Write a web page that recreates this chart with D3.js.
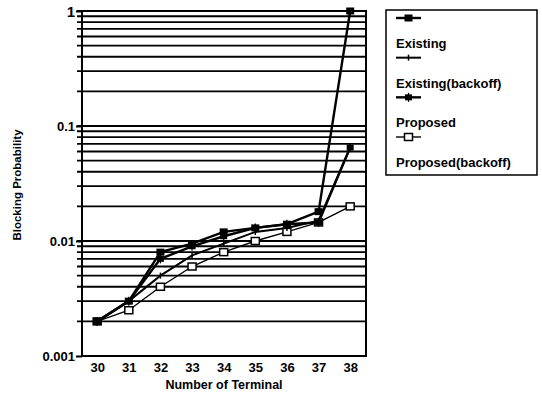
<!DOCTYPE html>
<html>
<head>
<meta charset="utf-8">
<script src="https://cdn.jsdelivr.net/npm/d3@7"></script>
<style>
  body { margin: 0; background: #fff; }
  text { font-family: "Liberation Sans", Arial, sans-serif; font-weight: bold; fill: #000; }
</style>
</head>
<body>
<div id="chart"></div>
<script>
// data
const terminals = [30, 31, 32, 33, 34, 35, 36, 37, 38];
const existing        = [0.002, 0.003, 0.008, 0.0095, 0.012, 0.013, 0.014, 0.018, 1];
const existingBackoff = [0.002, 0.003, 0.005, 0.0075, 0.0095, 0.012, 0.013, 0.015, 0.065];
const proposed        = [0.002, 0.003, 0.007, 0.009, 0.011, 0.013, 0.014, 0.0145, 0.065];
const proposedBackoff = [0.002, 0.0025, 0.004, 0.006, 0.008, 0.01, 0.012, 0.0145, 0.02];
const yTicks = [0.001, 0.01, 0.1, 1];
const seriesNames = ["Existing", "Existing(backoff)", "Proposed", "Proposed(backoff)"];

const width = 542, height = 397;
const margin = {top: 11, right: 176, bottom: 41, left: 82};

const svg = d3.select("#chart").append("svg")
    .attr("width", width)
    .attr("height", height);

let x = d3.scaleLinear().domain([29.52, 38.5]).range([margin.left, width - margin.right]);
let y = d3.scaleLog().domain([0.001, 1]).range([height - margin.bottom, margin.top]);

// grid lines at every minor step of the log axis
let minor = [];
[0.001, 0.01, 0.1].forEach(base => {
    for (let k = 2; k <= 10; k++) minor.push(base * k);
});

svg.append("g").selectAll("line").data(minor).enter().append("line")
    .attr("x1", margin.left - 5)
    .attr("x2", width - margin.right)
    .attr("y1", d => y(d))
    .attr("y2", d => y(d))
    .attr("stroke", "#000")
    .attr("stroke-width", 1.8);

// frame
svg.append("rect")
    .attr("x", margin.left).attr("y", margin.top)
    .attr("width", width - margin.right - margin.left)
    .attr("height", height - margin.bottom - margin.top)
    .attr("fill", "none").attr("stroke", "#000").attr("stroke-width", 2);

// y axis
let yAxis = d3.axisLeft(y).tickValues(yTicks).tickFormat(d3.format("~g")).tickSize(6).tickSizeOuter(0);
let yg = svg.append("g").attr("transform", "translate(" + margin.left + ",0)").call(yAxis);
yg.select(".domain").remove();
yg.selectAll("line").attr("stroke-width", 2);
yg.selectAll("text").attr("font-size", 13).attr("x", -7).attr("dy", "0.35em");
yg.selectAll("text").filter(d => d === 1).attr("font-size", 15);

// x axis
let xAxis = d3.axisBottom(x).tickValues(terminals).tickFormat(d3.format("d")).tickSize(0);
let xg = svg.append("g").attr("transform", "translate(0," + (height - margin.bottom) + ")").call(xAxis);
xg.select(".domain").remove();
xg.selectAll("text").attr("font-size", 13).attr("y", 7).attr("dy", "0.71em");

// axis titles
svg.append("text")
    .attr("x", (margin.left + width - margin.right) / 2)
    .attr("y", height - 8)
    .attr("text-anchor", "middle")
    .attr("font-size", 12.5)
    .text("Number of Terminal");

svg.append("text")
    .attr("transform", "translate(21," + 185 + ") rotate(-90)")
    .attr("text-anchor", "middle")
    .attr("font-size", 11.5)
    .text("Blocking Probability");

// series
let allSeries = [existing, existingBackoff, proposed, proposedBackoff];
let markers = ["square", "plus", "star", "open"];
let widths = [2.4, 2, 2.4, 1.4];

let line = d3.line().x((d, i) => x(terminals[i])).y(d => y(d));

function drawMarker(g, type, cx, cy) {
    if (type === "square") {
        g.append("rect").attr("x", cx - 4).attr("y", cy - 3.5).attr("width", 8).attr("height", 7).attr("fill", "#000");
    } else if (type === "open") {
        g.append("rect").attr("x", cx - 4).attr("y", cy - 3.5).attr("width", 8).attr("height", 7)
            .attr("fill", "#fff").attr("stroke", "#000").attr("stroke-width", 1.5);
    } else if (type === "plus") {
        g.append("line").attr("x1", cx).attr("x2", cx).attr("y1", cy - 3).attr("y2", cy + 3).attr("stroke", "#000").attr("stroke-width", 1.5);
    } else {
        g.append("rect").attr("x", cx - 3.5).attr("y", cy - 3).attr("width", 7).attr("height", 6).attr("fill", "#000");
        g.append("line").attr("x1", cx).attr("x2", cx).attr("y1", cy - 4.5).attr("y2", cy + 4.5).attr("stroke", "#000").attr("stroke-width", 1.2);
    }
}

allSeries.forEach((s, k) => {
    svg.append("path").datum(s)
        .attr("d", line)
        .attr("fill", "none")
        .attr("stroke", "#000")
        .attr("stroke-width", widths[k]);
});
allSeries.slice().reverse().forEach((s, r) => {
    let k = allSeries.length - 1 - r;
    let g = svg.append("g");
    s.forEach((v, i) => drawMarker(g, markers[k], x(terminals[i]), y(v)));
});

// legend
let lg = svg.append("g");
lg.append("rect")
    .attr("x", 386).attr("y", 10).attr("width", 151).attr("height", 165)
    .attr("fill", "#fff").attr("stroke", "#000").attr("stroke-width", 1.5);

let legendY = d3.scalePoint().domain(seriesNames).range([18, 137]);
seriesNames.forEach((name, k) => {
    let ly = legendY(name);
    lg.append("line").attr("x1", 396).attr("x2", 421).attr("y1", ly).attr("y2", ly)
        .attr("stroke", "#000").attr("stroke-width", widths[k]);
    drawMarker(lg, markers[k], 408.5, ly);
    lg.append("text").attr("x", 396).attr("y", ly + 30).attr("font-size", 13).text(name);
});
</script>
</body>
</html>
